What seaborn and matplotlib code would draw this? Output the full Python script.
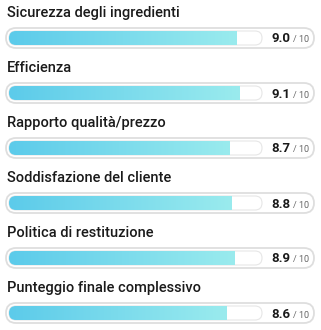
import numpy as np
import matplotlib
matplotlib.use("Agg")
import matplotlib.pyplot as plt
import seaborn as sns
import pandas as pd
from matplotlib.patches import FancyBboxPatch
from matplotlib.colors import LinearSegmentedColormap

categories = [
    "Sicurezza degli ingredienti",
    "Efficienza",
    "Rapporto qualità/prezzo",
    "Soddisfazione del cliente",
    "Politica di restituzione",
    "Punteggio finale complessivo",
]
scores = [9.0, 9.1, 8.7, 8.8, 8.9, 8.6]
score_labels = ["9.0", "9.1", "8.7", "8.8", "8.9", "8.6"]
max_label = "/ 10"
max_score = 10

sns.set_theme(style="white")
plt.rcParams["font.family"] = ["Roboto", "DejaVu Sans"]

W, H = 321, 330
DPI = 100
fig = plt.figure(figsize=(W / DPI, H / DPI), dpi=DPI)
fig.patch.set_facecolor("white")

# track geometry in pixels
TX0, TX1 = 9, 262
PITCH = 55
ROW0 = 38
ax = fig.add_axes([TX0 / W, 0, (TX1 - TX0) / W, 1])
ax.set_axis_off()

pxx = (TX1 - TX0) / max_score  # px per x unit
pxy = PITCH  # px per y unit


def dx(px):
    return (px - TX0) / pxx


def hy(px):
    return px / pxy


df = pd.DataFrame({"category": categories, "score": scores})
bar_h = hy(14)
sns.barplot(data=df, x="score", y="category", orient="h", width=bar_h,
            ax=ax, color="#6dd6ec")

aspect = (1 / pxy) / (1 / pxx)
cmap = LinearSegmentedColormap.from_list("g", ["#5ccbea", "#9aebee"])
grad = np.linspace(0, 1, 256).reshape(1, -1)

patches = list(ax.patches)
for i, p in enumerate(patches):
    y0 = p.get_y()
    h = p.get_height()
    w = p.get_width()
    yc = y0 + h / 2
    p.set_visible(False)
    # outer pill
    oh = hy(20)
    outer = FancyBboxPatch((dx(6), yc - oh / 2), dx(314) - dx(6), oh,
                           boxstyle=f"round,pad=0,rounding_size={10 / pxx}",
                           mutation_aspect=aspect, facecolor="white",
                           edgecolor="#dedede", lw=1.3, clip_on=False, zorder=1)
    ax.add_patch(outer)
    # white track
    track = FancyBboxPatch((0, y0), max_score, h,
                           boxstyle=f"round,pad=0,rounding_size={7 / pxx}",
                           mutation_aspect=aspect, facecolor="white",
                           edgecolor="#e6e6e6", lw=0.8, clip_on=False, zorder=2)
    ax.add_patch(track)
    # gradient fill
    clip = FancyBboxPatch((0, y0), w + 7 / pxx, h,
                          boxstyle=f"round,pad=0,rounding_size={7 / pxx}",
                          mutation_aspect=aspect, facecolor="none",
                          edgecolor="none", transform=ax.transData)
    ax.add_patch(clip)
    im = ax.imshow(grad, extent=[0, w, y0 + h, y0], aspect="auto",
                   cmap=cmap, zorder=3, interpolation="bilinear")
    im.set_clip_path(clip)
    # title
    ax.text(dx(7), yc - hy(21), categories[i], fontsize=10.5, fontweight="medium",
            color="#1a1a1a", ha="left", va="baseline", clip_on=False)
    # value
    ax.text(dx(290), yc + hy(4.5), score_labels[i], fontsize=9.5, fontweight="bold",
            color="#1a1a1a", ha="right", va="baseline", clip_on=False)
    ax.text(dx(293), yc + hy(4.5), max_label, fontsize=6.5, color="#666666",
            ha="left", va="baseline", clip_on=False)

ax.set_xlim(0, max_score)
ax.set_ylim((H - ROW0) / PITCH, -ROW0 / PITCH)
ax.set_xlabel("")
ax.set_ylabel("")

fig.savefig("out.png", dpi=DPI)
